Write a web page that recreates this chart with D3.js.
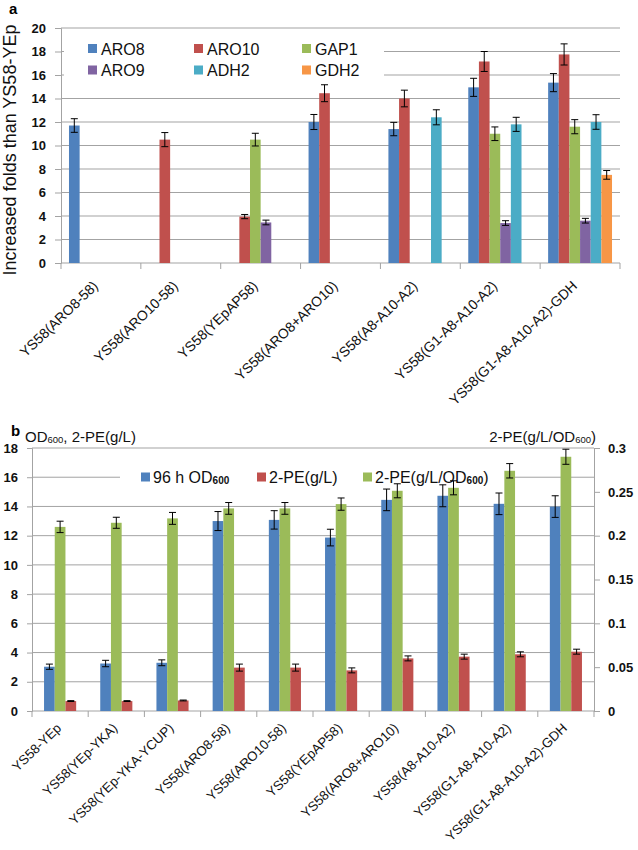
<!DOCTYPE html>
<html>
<head>
<meta charset="utf-8">
<script src="https://cdn.jsdelivr.net/npm/d3@7"></script>
<style>
  body { margin: 0; background: #fff; }
  svg { display: block; font-family: Arial, "Liberation Sans", sans-serif; }
</style>
</head>
<body>
<div id="chart"></div>
<script>
// ---- panel a data (fold increase vs YS58-YEp) ----
var catsA = ["YS58(ARO8-58)", "YS58(ARO10-58)", "YS58(YEpAP58)", "YS58(ARO8+ARO10)",
             "YS58(A8-A10-A2)", "YS58(G1-A8-A10-A2)", "YS58(G1-A8-A10-A2)-GDH"];
var genesA = ["ARO8", "ARO10", "GAP1", "ARO9", "ADH2", "GDH2"];
var aro8     = [11.7, null, null, 12.0, 11.4, 14.95, 15.35];
var aro8Err  = [0.58, null, null, 0.64, 0.57, 0.77, 0.77];
var aro10    = [null, 10.5, 3.95, 14.45, 14.0, 17.15, 17.75];
var aro10Err = [null, 0.6, 0.18, 0.72, 0.71, 0.85, 0.9];
var gap1     = [null, null, 10.5, null, null, 11.0, 11.6];
var gap1Err  = [null, null, 0.54, null, null, 0.58, 0.6];
var aro9     = [null, null, 3.45, null, null, 3.4, 3.6];
var aro9Err  = [null, null, 0.2, null, null, 0.2, 0.2];
var adh2     = [null, null, null, null, 12.4, 11.8, 12.0];
var adh2Err  = [null, null, null, null, 0.64, 0.6, 0.62];
var gdh2     = [null, null, null, null, null, null, 7.5];
var gdh2Err  = [null, null, null, null, null, null, 0.37];
var ticksA = [0, 2, 4, 6, 8, 10, 12, 14, 16, 18, 20];

// ---- panel b data ----
var catsB = ["YS58-YEp", "YS58(YEp-YKA)", "YS58(YEp-YKA-YCUP)", "YS58(ARO8-58)", "YS58(ARO10-58)",
             "YS58(YEpAP58)", "YS58(ARO8+ARO10)", "YS58(A8-A10-A2)", "YS58(G1-A8-A10-A2)",
             "YS58(G1-A8-A10-A2)-GDH"];
var od600      = [3.03, 3.25, 3.3, 13.0, 13.08, 11.87, 14.45, 14.73, 14.18, 13.99];
var od600Err   = [0.18, 0.22, 0.2, 0.65, 0.63, 0.57, 0.74, 0.75, 0.74, 0.74];
var peTiter    = [0.68, 0.68, 0.72, 2.97, 2.97, 2.78, 3.6, 3.72, 3.88, 4.06];
var peTiterErr = [0.03, 0.03, 0.03, 0.24, 0.24, 0.17, 0.17, 0.17, 0.17, 0.17];
var peYield    = [0.21, 0.2147, 0.2197, 0.2311, 0.2311, 0.236, 0.2512, 0.2546, 0.274, 0.29];
var peYieldErr = [0.0065, 0.0063, 0.0068, 0.0067, 0.0067, 0.007, 0.008, 0.008, 0.0082, 0.0086];
var ticksBLeft  = [0, 2, 4, 6, 8, 10, 12, 14, 16, 18];
var ticksBRight = [0, 0.05, 0.1, 0.15, 0.2, 0.25, 0.3];

var colA = { ARO8: "#4f81bd", ARO10: "#c0504d", GAP1: "#9bbb59", ARO9: "#8064a2", ADH2: "#4bacc6", GDH2: "#f79646" };
var gridCol = "#a3a3a3";

var svg = d3.select("#chart").append("svg")
    .attr("width", 638)
    .attr("height", 850);

function styleAxis(g) {
  g.selectAll(".domain").attr("stroke", gridCol);
  g.selectAll(".tick line").attr("stroke", gridCol);
  g.selectAll(".tick text")
    .attr("font-size", "13px")
    .attr("font-weight", "bold")
    .attr("fill", "#111")
    .attr("font-family", "Arial, 'Liberation Sans', sans-serif");
}

function errBar(g, x, y0, y1) {
  g.append("line").attr("x1", x).attr("x2", x).attr("y1", y0).attr("y2", y1).attr("stroke", "#000");
  g.append("line").attr("x1", x - 3.5).attr("x2", x + 3.5).attr("y1", y0).attr("y2", y0).attr("stroke", "#000");
  g.append("line").attr("x1", x - 3.5).attr("x2", x + 3.5).attr("y1", y1).attr("y2", y1).attr("stroke", "#000");
}

function xLabels(g, scale, cats, y0, dx, dy, size) {
  cats.forEach(function(c) {
    var cx = scale(c) + scale.bandwidth() / 2 + dx;
    g.append("text")
      .attr("transform", "translate(" + cx + "," + (y0 + dy) + ") rotate(-44)")
      .attr("text-anchor", "end")
      .attr("font-size", size)
      .attr("fill", "#111")
      .text(c);
  });
}

// =================== panel a ===================
(function () {
  var x0 = 61, x1 = 620, yBase = 263, yTop = 28;
  var xA = d3.scaleBand().domain(catsA).range([x0, x1]);
  var subA = d3.scaleBand().domain(genesA).range([0, xA.bandwidth()]).paddingOuter(0.75);
  var yA = d3.scaleLinear().domain([0, 20]).range([yBase, yTop]);

  var g = svg.append("g");

  g.append("text").attr("x", 9).attr("y", 14).attr("font-size", "15px").attr("font-weight", "bold").text("a");

  // gridlines
  g.selectAll(".gridA").data(ticksA.slice(1)).enter().append("line")
    .attr("x1", x0).attr("x2", x1)
    .attr("y1", function(d) { return yA(d); }).attr("y2", function(d) { return yA(d); })
    .attr("stroke", gridCol);

  var yAxis = g.append("g")
    .attr("transform", "translate(" + x0 + ",0)")
    .call(d3.axisLeft(yA).tickValues(ticksA).tickSize(6).tickPadding(9).tickFormat(d3.format("d")));
  styleAxis(yAxis);

  // x axis with ticks between categories
  g.append("line").attr("x1", x0).attr("x2", x1).attr("y1", yBase).attr("y2", yBase).attr("stroke", gridCol);
  var bounds = catsA.map(function(c) { return xA(c); }).concat([x1]);
  g.selectAll(".tickA").data(bounds).enter().append("line")
    .attr("x1", function(d) { return d; }).attr("x2", function(d) { return d; })
    .attr("y1", yBase).attr("y2", yBase + 6).attr("stroke", gridCol);

  // legend (white box hides the gridlines behind it)
  g.append("rect").attr("x", 64).attr("y", 37).attr("width", 320).attr("height", 47).attr("fill", "#fff");
  var legX = [88, 194, 302], legY = [48.5, 70];
  genesA.forEach(function(name, i) {
    var lx = legX[i % 3], ly = legY[Math.floor(i / 3)];
    g.append("rect").attr("x", lx).attr("y", ly - 4.5).attr("width", 9).attr("height", 9).attr("fill", colA[name]);
    g.append("text").attr("x", lx + 13).attr("y", ly + 6).attr("font-size", "16px").attr("fill", "#111").text(name);
  });

  var series = [
    { name: "ARO8", v: aro8, e: aro8Err },
    { name: "ARO10", v: aro10, e: aro10Err },
    { name: "GAP1", v: gap1, e: gap1Err },
    { name: "ARO9", v: aro9, e: aro9Err },
    { name: "ADH2", v: adh2, e: adh2Err },
    { name: "GDH2", v: gdh2, e: gdh2Err }
  ];

  series.forEach(function(s) {
    catsA.forEach(function(c, i) {
      if (s.v[i] == null) return;
      var bx = xA(c) + subA(s.name);
      g.append("rect")
        .attr("x", bx).attr("width", subA.bandwidth())
        .attr("y", yA(s.v[i])).attr("height", yBase - yA(s.v[i]))
        .attr("fill", colA[s.name]);
    });
  });
  series.forEach(function(s) {
    catsA.forEach(function(c, i) {
      if (s.v[i] == null) return;
      var cx = xA(c) + subA(s.name) + subA.bandwidth() / 2;
      errBar(g, cx, yA(s.v[i] - s.e[i]), yA(s.v[i] + s.e[i]));
    });
  });

  // y title
  g.append("text")
    .attr("transform", "translate(16," + 150 + ") rotate(-90)")
    .attr("text-anchor", "middle")
    .attr("font-size", "18px")
    .attr("fill", "#111")
    .text("Increased folds than YS58-YEp");

  xLabels(g, xA, catsA, yBase, -2, 24, "14px");
})();

// =================== panel b ===================
(function () {
  var x0 = 32, x1 = 594, yBase = 711, yTop = 448;
  var xB = d3.scaleBand().domain(catsB).range([x0, x1]);
  var keys = ["od", "yield", "titer"];
  var subB = d3.scaleBand().domain(keys).range([0, xB.bandwidth()]).paddingOuter(1.125);
  var yL = d3.scaleLinear().domain([0, 18]).range([yBase, yTop]);
  var yR = d3.scaleLinear().domain([0, 0.3]).range([yBase, yTop]);

  var g = svg.append("g");

  g.append("text").attr("x", 11).attr("y", 436).attr("font-size", "15px").attr("font-weight", "bold").text("b");

  var tl = g.append("text").attr("x", 25).attr("y", 442).attr("font-size", "15px").attr("fill", "#111");
  tl.append("tspan").text("OD");
  tl.append("tspan").attr("font-size", "9.5px").attr("dy", 1).text("600");
  tl.append("tspan").attr("dy", -1).text(", 2-PE(g/L)");

  var tr = g.append("text").attr("x", 596).attr("y", 442).attr("font-size", "15px").attr("fill", "#111").attr("text-anchor", "end");
  tr.append("tspan").text("2-PE(g/L/OD");
  tr.append("tspan").attr("font-size", "9.5px").attr("dy", 1).text("600");
  tr.append("tspan").attr("dy", -1).text(")");

  g.selectAll(".gridB").data(ticksBLeft.slice(1)).enter().append("line")
    .attr("x1", x0).attr("x2", x1)
    .attr("y1", function(d) { return yL(d); }).attr("y2", function(d) { return yL(d); })
    .attr("stroke", gridCol);

  var axL = g.append("g")
    .attr("transform", "translate(" + x0 + ",0)")
    .call(d3.axisLeft(yL).tickValues(ticksBLeft).tickSize(5).tickPadding(9).tickFormat(d3.format("d")));
  styleAxis(axL);

  var axR = g.append("g")
    .attr("transform", "translate(" + x1 + ",0)")
    .call(d3.axisRight(yR).tickValues(ticksBRight).tickSize(6).tickPadding(8).tickFormat(function(d) { return String(+d.toFixed(2)); }));
  styleAxis(axR);

  g.append("line").attr("x1", x0).attr("x2", x1).attr("y1", yBase).attr("y2", yBase).attr("stroke", gridCol);
  var bounds = catsB.map(function(c) { return xB(c); }).concat([x1]);
  g.selectAll(".tickB").data(bounds).enter().append("line")
    .attr("x1", function(d) { return d; }).attr("x2", function(d) { return d; })
    .attr("y1", yBase).attr("y2", yBase + 6).attr("stroke", gridCol);

  // legend, drawn before the bars so the tallest error bars stay visible
  g.append("rect").attr("x", 120).attr("y", 466).attr("width", 390).attr("height", 23).attr("fill", "#fff");
  var legItems = [
    { x: 141, col: "#4f81bd", parts: ["96 h OD", "600", ""] },
    { x: 257, col: "#c0504d", parts: ["2-PE(g/L)", "", ""] },
    { x: 363, col: "#9bbb59", parts: ["2-PE(g/L/OD", "600", ")"] }
  ];
  legItems.forEach(function(it) {
    g.append("rect").attr("x", it.x).attr("y", 472.5).attr("width", 9).attr("height", 9).attr("fill", it.col);
    var t = g.append("text").attr("x", it.x + 12).attr("y", 483).attr("font-size", "16px").attr("fill", "#111");
    t.append("tspan").text(it.parts[0]);
    if (it.parts[1]) t.append("tspan").attr("font-size", "10px").attr("font-weight", "bold").attr("dy", 1).text(it.parts[1]);
    if (it.parts[2]) t.append("tspan").attr("dy", -1).text(it.parts[2]);
  });

  var series = [
    { key: "od", v: od600, e: od600Err, y: yL, col: "#4f81bd" },
    { key: "yield", v: peYield, e: peYieldErr, y: yR, col: "#9bbb59" },
    { key: "titer", v: peTiter, e: peTiterErr, y: yL, col: "#c0504d" }
  ];

  series.forEach(function(s) {
    catsB.forEach(function(c, i) {
      g.append("rect")
        .attr("x", xB(c) + subB(s.key)).attr("width", subB.bandwidth())
        .attr("y", s.y(s.v[i])).attr("height", yBase - s.y(s.v[i]))
        .attr("fill", s.col);
    });
  });
  series.forEach(function(s) {
    catsB.forEach(function(c, i) {
      var cx = xB(c) + subB(s.key) + subB.bandwidth() / 2;
      errBar(g, cx, s.y(s.v[i] - s.e[i]), s.y(s.v[i] + s.e[i]));
    });
  });

  xLabels(g, xB, catsB, yBase, 2, 18, "13.3px");
})();
</script>
</body>
</html>
